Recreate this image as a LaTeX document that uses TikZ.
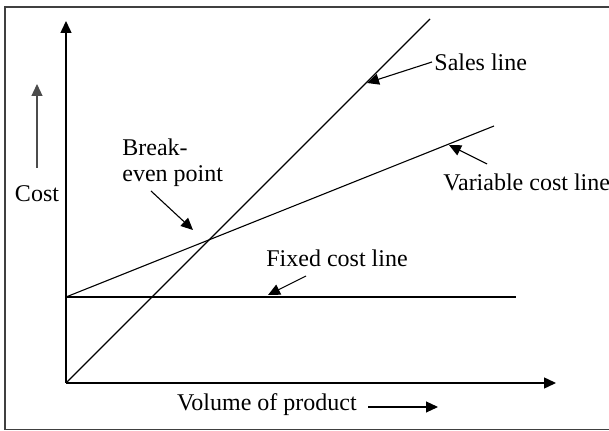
\documentclass[tikz,border=0pt]{standalone}
\usepackage{fontspec}
\setmainfont{Liberation Serif}
\usetikzlibrary{arrows.meta}
\begin{document}
\begin{tikzpicture}[x=0.5pt,y=-0.5pt,
  thin line/.style={line width=0.55pt,black},
  arr/.style={thin line,-{Triangle[length=6pt,width=5.5pt]}},
  lbl/.style={font=\fontsize{12}{13}\selectfont,inner sep=0pt}]
\useasboundingbox (0,0) rectangle (609,431);
% frame
\draw[line width=0.9pt,black!75] (609,7) -- (5,7) -- (5,429.5) -- (609,429.5);
% axes
\coordinate (O) at (66,383);
\coordinate (ytop) at (66,21);
\coordinate (xend) at (556,383);
\draw[arr,line width=0.7pt] (O) -- (ytop);
\draw[arr,line width=0.7pt] (O) -- (xend);
% cost label and arrow
\node[lbl] (cost) at (37,194) {Cost};
\coordinate (cb) at (37,168);
\coordinate (ct) at (37,84);
\draw[arr,line width=0.6pt,black!70] (cb) -- (ct);
% lines
\coordinate (F0) at (66,297);
\coordinate (F1) at (516,297);
\coordinate (V1) at (494,126);
\coordinate (S1) at (430,19);
\draw[thin line,line width=0.7pt] (F0) -- (F1);
\draw[thin line] (F0) -- (V1);
\draw[thin line] (O) -- (S1);
% labels
\node[lbl,anchor=west] (sales) at (434,62) {Sales line};
\node[lbl,anchor=west] (var) at (443,182) {Variable cost line};
\node[lbl,anchor=west,align=left] (be) at (122,163) {Break-\\even point};
\node[lbl] (fixed) at (337,258) {Fixed cost line};
\node[lbl] (vol) at (267,405) {Volume of product};
% arrow ends
\coordinate (sa) at (432,62);
\coordinate (st) at (367,83);
\coordinate (va) at (487,164);
\coordinate (vt) at (449,145);
\coordinate (ba) at (151,191);
\coordinate (bt) at (193,230);
\coordinate (fa) at (306,276);
\coordinate (ft) at (268,295);
\coordinate (wa) at (368,407);
\coordinate (wt) at (438,407);
\draw[arr] (sa) -- (st);
\draw[arr] (va) -- (vt);
\draw[arr] (ba) -- (bt);
\draw[arr] (fa) -- (ft);
\draw[arr] (wa) -- (wt);
\end{tikzpicture}
\end{document}
